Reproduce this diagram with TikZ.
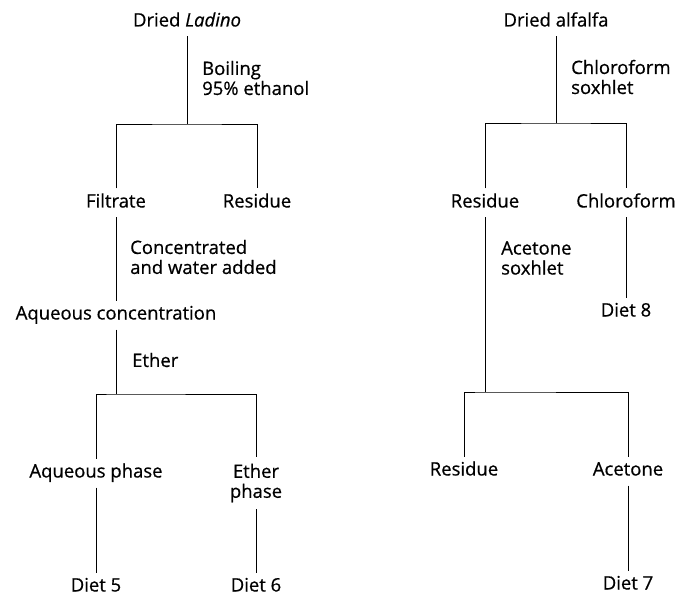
\documentclass[tikz,border=0pt]{standalone}
\usepackage{fontspec}
\setmainfont{Open Sans}[UprightFeatures={FakeBold=0.6}, ItalicFeatures={FakeBold=0.6}]

\tikzset{
  stage/.style={inner sep=0pt, outer sep=7pt, text height=12pt, text depth=3pt,
    font=\fontsize{18.5}{20}\selectfont},
  remark/.style={anchor=west, align=left, inner sep=0pt,
    font=\fontsize{18.5}{20}\selectfont},
  link/.style={line width=0.7pt}
}

\begin{document}
\begin{tikzpicture}[x=1pt,y=-1pt]
\useasboundingbox (0,0) rectangle (688,596);

% Ladino fractionation
\node[stage] (ladino) at (187,22) {Dried \textit{Ladino}};
\node[remark] (boiling) at (202,78) {Boiling\\95\% ethanol};
\coordinate (split1) at (187,124);
\node[stage] (filtrate) at (116,203) {Filtrate};
\node[stage] (residue1) at (257,203) {Residue};
\node[remark] (conc) at (130,257) {Concentrated\\and water added};
\node[stage] (aqconc) at (116,315) {Aqueous concentration};
\node[remark] (etherstep) at (132,360) {Ether};
\coordinate (split2) at (116,394);
\node[stage] (aqphase) at (96,473) {Aqueous phase};
\node[stage, align=center, text height=, text depth=] (etherphase) at (256,483) {Ether\\phase};
\node[stage] (diet5) at (96,587) {Diet 5};
\node[stage] (diet6) at (256,587) {Diet 6};

\draw[link] (ladino) -- (split1);
\draw[link] (filtrate) |- (split1) -| (residue1);
\draw[link] (filtrate) -- (aqconc);
\draw[link] (aqconc) -- (split2);
\draw[link] (aqphase) |- (split2) -| (etherphase);
\draw[link] (aqphase) -- (diet5);
\draw[link] (etherphase) -- (diet6);

% alfalfa fractionation
\node[stage] (alfalfa) at (556,22) {Dried alfalfa};
\node[remark] (chlorostep) at (571,77) {Chloroform\\soxhlet};
\coordinate (split3) at (556,123);
\node[stage] (residue2) at (485,203) {Residue};
\node[stage] (chloroform) at (626,203) {Chloroform};
\node[remark] (acetstep) at (501,258) {Acetone\\soxhlet};
\node[stage] (diet8) at (626,312) {Diet 8};
\coordinate (split4) at (485,392);
\node[stage] (residue3) at (464,471) {Residue};
\node[stage] (acetone) at (628,471) {Acetone};
\node[stage] (diet7) at (628,585) {Diet 7};

\draw[link] (alfalfa) -- (split3);
\draw[link] (residue2) |- (split3) -| (chloroform);
\draw[link] (chloroform) -- (diet8);
\draw[link] (residue2) -- (split4);
\draw[link] (residue3) |- (split4) -| (acetone);
\draw[link] (acetone) -- (diet7);
\end{tikzpicture}
\end{document}
